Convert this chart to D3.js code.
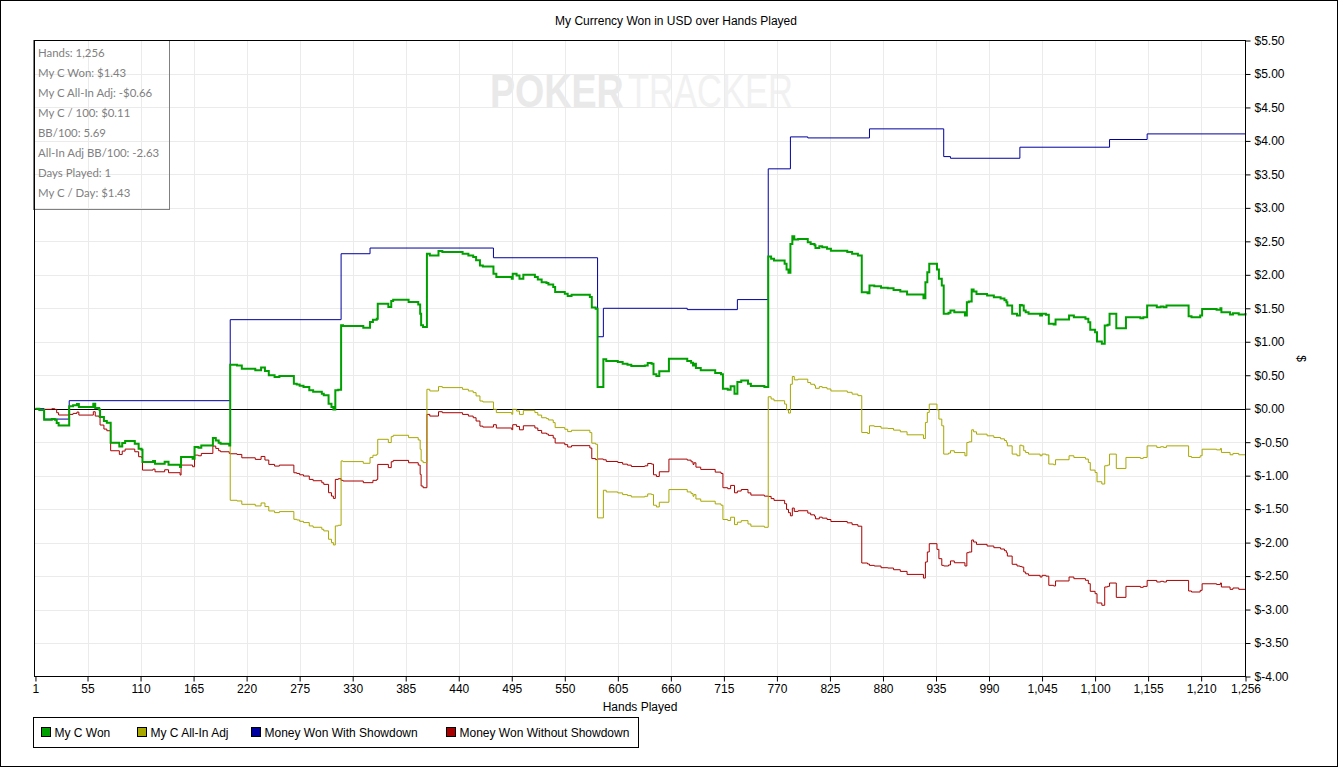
<!DOCTYPE html>
<html>
<head>
<meta charset="utf-8">
<script src="https://cdn.jsdelivr.net/npm/d3@7"></script>
<style>
  html, body { margin: 0; padding: 0; background: #fff; }
  svg { display: block; font-family: "Liberation Sans", Arial, sans-serif; }
</style>
</head>
<body>
<svg id="chart" width="1338" height="767"></svg>
<script>
// ---- data ----
const hands = [1, 5, 10, 18, 21, 23, 25, 36, 40, 44, 46, 61, 63, 67, 68, 72, 75, 79, 88, 91,
  94, 104, 108, 111, 112, 123, 125, 135, 139, 151, 152, 164, 166, 170, 173, 185, 188, 191, 193, 202,
  203, 210, 215, 229, 235, 239, 243, 249, 254, 269, 272, 275, 279, 285, 289, 298, 300, 305, 308, 310,
  312, 315, 318, 320, 341, 348, 351, 355, 356, 367, 370, 372, 388, 398, 400, 401, 403, 407, 410, 419,
  423, 444, 450, 455, 458, 462, 465, 476, 479, 495, 496, 500, 503, 507, 519, 522, 526, 531, 533, 538,
  540, 550, 553, 557, 576, 578, 582, 584, 590, 593, 605, 610, 615, 619, 633, 636, 640, 642, 645, 648,
  658, 677, 681, 683, 684, 686, 691, 706, 712, 714, 719, 722, 726, 729, 733, 740, 743, 757, 761, 764,
  767, 778, 780, 782, 784, 786, 788, 792, 802, 805, 809, 810, 814, 817, 822, 826, 843, 848, 854, 858,
  864, 866, 871, 878, 885, 891, 898, 905, 922, 924, 926, 928, 936, 938, 941, 943, 948, 950, 954, 965,
  967, 969, 972, 974, 977, 988, 995, 1002, 1006, 1008, 1009, 1014, 1019, 1022, 1024, 1026, 1028, 1031, 1043, 1045,
  1049, 1052, 1057, 1059, 1073, 1078, 1090, 1093, 1095, 1100, 1102, 1107, 1110, 1113, 1115, 1122, 1132, 1147, 1150, 1154,
  1164, 1168, 1171, 1174, 1197, 1200, 1209, 1211, 1226, 1230, 1231, 1240, 1243, 1249, 1256];

const wonValues = [0, -0.02, -0.164, -0.154, -0.165, -0.214, -0.249, 0.035, 0.05, 0.07, 0.025, 0.075, 0.01, -0.01, -0.124, -0.184, -0.209, -0.508, -0.563, -0.513,
  -0.483, -0.523, -0.597, -0.612, -0.797, -0.782, -0.822, -0.792, -0.836, -0.871, -0.722, -0.747, -0.573, -0.583, -0.548, -0.438, -0.473, -0.508, -0.523, -0.548,
  0.657, 0.647, 0.597, 0.573, 0.617, 0.563, 0.498, 0.473, 0.488, 0.373, 0.363, 0.343, 0.324, 0.274, 0.254, 0.224, 0.2, 0.075, 0.025, -0.01,
  0.274, 0.284, 1.245, 1.235, 1.21, 1.295, 1.33, 1.344, 1.568, 1.52, 1.608, 1.628, 1.593, 1.558, 1.419, 1.245, 1.22, 2.315, 2.29, 2.355,
  2.34, 2.315, 2.29, 2.265, 2.216, 2.14, 2.126, 2.016, 1.967, 1.942, 2.016, 1.99, 1.94, 2.0, 1.967, 1.93, 1.89, 1.877, 1.857, 1.817,
  1.743, 1.718, 1.683, 1.703, 1.668, 1.51, 1.494, 0.324, 0.737, 0.712, 0.697, 0.672, 0.657, 0.637, 0.647, 0.682, 0.672, 0.513, 0.488, 0.558,
  0.747, 0.712, 0.687, 0.647, 0.672, 0.607, 0.573, 0.533, 0.513, 0.3, 0.285, 0.334, 0.224, 0.4, 0.423, 0.373, 0.34, 0.324, 2.273, 2.24,
  2.214, 2.164, 2.079, 2.03, 2.46, 2.576, 2.526, 2.536, 2.486, 2.46, 2.44, 2.4, 2.425, 2.41, 2.39, 2.36, 2.34, 2.313, 2.29, 1.74,
  1.725, 1.84, 1.83, 1.805, 1.8, 1.775, 1.75, 1.705, 1.65, 1.89, 2.04, 2.164, 2.079, 1.94, 1.84, 1.417, 1.432, 1.467, 1.44, 1.392,
  1.59, 1.6, 1.78, 1.75, 1.715, 1.69, 1.665, 1.645, 1.62, 1.59, 1.54, 1.417, 1.392, 1.55, 1.54, 1.467, 1.44, 1.417, 1.392, 1.417,
  1.405, 1.268, 1.258, 1.333, 1.392, 1.367, 1.343, 1.293, 1.178, 1.143, 1.004, 0.97, 1.243, 1.253, 1.417, 1.203, 1.367, 1.353, 1.367, 1.54,
  1.517, 1.527, 1.517, 1.54, 1.382, 1.367, 1.392, 1.49, 1.48, 1.502, 1.442, 1.407, 1.427, 1.407, 1.43];

const allInValues = [0, -0.02, -0.164, -0.154, -0.165, -0.214, -0.249, 0.035, 0.05, 0.07, 0.025, 0.075, 0.01, -0.01, -0.124, -0.184, -0.209, -0.508, -0.563, -0.513,
  -0.483, -0.523, -0.597, -0.612, -0.797, -0.782, -0.822, -0.792, -0.836, -0.871, -0.722, -0.747, -0.573, -0.583, -0.548, -0.438, -0.473, -0.508, -0.523, -0.548,
  -1.368, -1.378, -1.428, -1.452, -1.408, -1.462, -1.527, -1.552, -1.537, -1.652, -1.662, -1.682, -1.701, -1.751, -1.771, -1.801, -1.825, -1.95, -2.0, -2.035,
  -1.751, -1.741, -0.78, -0.79, -0.815, -0.73, -0.695, -0.681, -0.457, -0.505, -0.417, -0.397, -0.432, -0.467, -0.606, -0.78, -0.805, 0.29, 0.265, 0.33,
  0.315, 0.29, 0.265, 0.24, 0.191, 0.115, 0.101, -0.009, -0.058, -0.083, -0.009, -0.035, -0.085, -0.025, -0.058, -0.095, -0.135, -0.148, -0.168, -0.208,
  -0.282, -0.307, -0.342, -0.322, -0.357, -0.515, -0.531, -1.631, -1.218, -1.243, -1.258, -1.283, -1.298, -1.318, -1.308, -1.273, -1.283, -1.442, -1.467, -1.397,
  -1.208, -1.243, -1.268, -1.308, -1.283, -1.348, -1.382, -1.422, -1.442, -1.655, -1.67, -1.621, -1.731, -1.695, -1.672, -1.722, -1.755, -1.771, 0.178, 0.145,
  0.119, 0.069, -0.016, -0.065, 0.365, 0.481, 0.431, 0.441, 0.391, 0.365, 0.345, 0.305, 0.33, 0.315, 0.295, 0.265, 0.245, 0.218, 0.195, -0.355,
  -0.37, -0.255, -0.265, -0.29, -0.295, -0.32, -0.345, -0.39, -0.445, -0.205, -0.055, 0.069, -0.016, -0.155, -0.255, -0.678, -0.663, -0.628, -0.655, -0.703,
  -0.505, -0.495, -0.315, -0.345, -0.38, -0.405, -0.43, -0.45, -0.475, -0.505, -0.555, -0.678, -0.703, -0.545, -0.555, -0.628, -0.655, -0.678, -0.703, -0.678,
  -0.69, -0.827, -0.837, -0.762, -0.703, -0.728, -0.752, -0.802, -0.917, -0.952, -1.091, -1.125, -0.852, -0.842, -0.678, -0.892, -0.728, -0.742, -0.728, -0.555,
  -0.578, -0.568, -0.578, -0.555, -0.713, -0.728, -0.703, -0.605, -0.615, -0.593, -0.653, -0.688, -0.668, -0.688, -0.66];

const nonShowdownValues = [0, -0.02, -0.009, 0.0, -0.01, -0.06, -0.094, -0.085, -0.07, -0.05, -0.095, -0.045, -0.11, -0.13, -0.244, -0.304, -0.329, -0.628, -0.683, -0.633,
  -0.603, -0.643, -0.717, -0.732, -0.917, -0.902, -0.942, -0.912, -0.956, -0.991, -0.842, -0.867, -0.693, -0.703, -0.668, -0.558, -0.593, -0.628, -0.643, -0.668,
  -0.673, -0.683, -0.733, -0.757, -0.713, -0.767, -0.832, -0.857, -0.842, -0.957, -0.967, -0.987, -1.006, -1.056, -1.076, -1.106, -1.13, -1.255, -1.305, -1.34,
  -1.056, -1.046, -1.07, -1.08, -1.105, -1.105, -1.07, -1.056, -0.832, -0.88, -0.792, -0.772, -0.807, -0.842, -0.981, -1.155, -1.18, -0.085, -0.11, -0.045,
  -0.06, -0.085, -0.11, -0.135, -0.184, -0.26, -0.274, -0.239, -0.288, -0.313, -0.239, -0.265, -0.315, -0.255, -0.288, -0.325, -0.365, -0.378, -0.398, -0.438,
  -0.512, -0.537, -0.572, -0.552, -0.587, -0.745, -0.761, -0.751, -0.763, -0.788, -0.803, -0.828, -0.843, -0.863, -0.853, -0.818, -0.828, -0.987, -1.012, -0.942,
  -0.753, -0.768, -0.793, -0.833, -0.808, -0.873, -0.907, -0.947, -0.967, -1.18, -1.195, -1.146, -1.256, -1.23, -1.207, -1.257, -1.29, -1.306, -1.31, -1.343,
  -1.369, -1.419, -1.504, -1.553, -1.6, -1.484, -1.534, -1.524, -1.559, -1.585, -1.605, -1.645, -1.62, -1.635, -1.655, -1.685, -1.705, -1.732, -1.755, -2.305,
  -2.32, -2.34, -2.35, -2.375, -2.38, -2.405, -2.43, -2.475, -2.53, -2.29, -2.14, -2.016, -2.101, -2.24, -2.34, -2.349, -2.334, -2.274, -2.301, -2.349,
  -2.151, -2.141, -1.961, -1.991, -2.026, -2.051, -2.076, -2.096, -2.121, -2.151, -2.201, -2.324, -2.349, -2.356, -2.366, -2.439, -2.466, -2.489, -2.514, -2.489,
  -2.501, -2.638, -2.648, -2.573, -2.514, -2.539, -2.563, -2.613, -2.728, -2.763, -2.902, -2.936, -2.663, -2.653, -2.604, -2.818, -2.654, -2.668, -2.654, -2.565,
  -2.588, -2.578, -2.588, -2.565, -2.723, -2.738, -2.713, -2.615, -2.625, -2.603, -2.663, -2.698, -2.678, -2.698, -2.675];

const showdownHands = [1, 10, 36, 203, 318, 348, 476, 584, 590, 677, 729, 761, 784, 802, 866, 943, 950, 1022, 1115, 1154, 1256];
const showdownValues = [0, -0.155, 0.12, 1.33, 2.315, 2.40, 2.255, 1.075, 1.50, 1.48, 1.63, 3.583, 4.06, 4.045, 4.18, 3.766, 3.741, 3.906, 4.021, 4.105, 4.105];

const xTicks = [1, 55, 110, 165, 220, 275, 330, 385, 440, 495, 550, 605, 660, 715, 770, 825, 880, 935, 990, 1045, 1100, 1155, 1210, 1256];
const yTicks = [-4, -3.5, -3, -2.5, -2, -1.5, -1, -0.5, 0, 0.5, 1, 1.5, 2, 2.5, 3, 3.5, 4, 4.5, 5, 5.5];

const seriesNames = ["My C Won", "My C All-In Adj", "Money Won With Showdown", "Money Won Without Showdown"];
const seriesColors = ["#00a000", "#a8a800", "#0000a0", "#a80000"];

const statLines = ["Hands: 1,256", "My C Won: $1.43", "My C All-In Adj: -$0.66", "My C / 100: $0.11",
  "BB/100: 5.69", "All-In Adj BB/100: -2.63", "Days Played: 1", "My C / Day: $1.43"];

// ---- layout ----
const W = 1338, H = 767;
const plot = { left: 34.5, right: 1245.5, top: 40.5, bottom: 676.5 };
const legendX = [41.5, 137.5, 251.5, 446.5];

const svg = d3.select("#chart");

const x = d3.scaleLinear().domain([0, 1256]).range([plot.left, plot.right]);
const y = d3.scaleLinear().domain([-4, 5.5]).range([plot.bottom, plot.top]);

svg.append("rect").attr("width", W).attr("height", H).attr("fill", "#fff");
svg.append("rect")
    .attr("x", 0.5).attr("y", 0.5)
    .attr("width", W - 1).attr("height", H - 1)
    .attr("fill", "none").attr("stroke", "#000");

// title
svg.append("text")
    .attr("x", 676).attr("y", 25)
    .attr("text-anchor", "middle")
    .style("font-size", "12px")
    .text("My Currency Won in USD over Hands Played");

// watermark (squeezed horizontally like the original logo)
svg.append("text")
    .attr("transform", "translate(490,107) scale(0.8,1)")
    .style("font-size", "47px").style("font-weight", "bold")
    .attr("fill", "#e9e9e9")
    .text("POKER");
svg.append("text")
    .attr("transform", "translate(628,107) scale(0.735,1)")
    .style("font-size", "47px")
    .attr("fill", "#f1f1f1")
    .text("TRACKER");

// gridlines
const grid = svg.append("g").attr("stroke", "#ebebeb").attr("stroke-width", 1);
grid.selectAll("line.v")
    .data(xTicks.slice(1, -1))
    .enter().append("line")
    .attr("class", "v")
    .attr("x1", d => Math.round(x(d)) + 0.5).attr("x2", d => Math.round(x(d)) + 0.5)
    .attr("y1", plot.top).attr("y2", plot.bottom);
grid.selectAll("line.h")
    .data(yTicks.slice(1, -1))
    .enter().append("line")
    .attr("class", "h")
    .attr("y1", d => Math.round(y(d)) + 0.5).attr("y2", d => Math.round(y(d)) + 0.5)
    .attr("x1", plot.left).attr("x2", plot.right);

// info box
svg.append("rect")
    .attr("x", 33.5).attr("y", 40.5)
    .attr("width", 136).attr("height", 169)
    .attr("fill", "none").attr("stroke", "#808080");
svg.append("g")
    .selectAll("text")
    .data(statLines)
    .enter().append("text")
    .attr("x", 38)
    .attr("y", (d, i) => 57 + i * 20)
    .attr("fill", "#808080")
    .style("font-family", "Lato, 'Open Sans', sans-serif")
    .style("font-size", "11.4px")
    .text(d => d);

// zero line
svg.append("line")
    .attr("x1", plot.left).attr("x2", plot.right)
    .attr("y1", Math.round(y(0)) + 0.5).attr("y2", Math.round(y(0)) + 0.5)
    .attr("stroke", "#000");

// series
function stepPath(xs, vs) {
  return d3.line()
      .x((d, i) => x(xs[i]))
      .y(d => y(d))
      .curve(d3.curveStepAfter)(vs);
}

const series = [
  { xs: hands, vs: nonShowdownValues, color: seriesColors[3], w: 1 },
  { xs: showdownHands, vs: showdownValues, color: seriesColors[2], w: 1 },
  { xs: hands, vs: allInValues, color: seriesColors[1], w: 1 },
  { xs: hands, vs: wonValues, color: seriesColors[0], w: 2 }
];

svg.append("g")
    .selectAll("path")
    .data(series)
    .enter().append("path")
    .attr("d", d => stepPath(d.xs, d.vs))
    .attr("fill", "none")
    .attr("stroke", d => d.color)
    .attr("stroke-width", d => d.w);

// plot frame
svg.append("rect")
    .attr("x", plot.left).attr("y", plot.top)
    .attr("width", plot.right - plot.left).attr("height", plot.bottom - plot.top)
    .attr("fill", "none").attr("stroke", "#000");

// axes
const xAxis = d3.axisBottom(x)
    .tickValues(xTicks)
    .tickSize(5).tickSizeOuter(0).tickPadding(3)
    .tickFormat(d3.format(","));
const xg = svg.append("g")
    .attr("transform", `translate(0,${plot.bottom})`)
    .call(xAxis);
xg.select(".domain").remove();
xg.selectAll("text").style("font-size", "12px").attr("fill", "#000")
    .style("font-family", "'Liberation Sans', Arial, sans-serif");
xg.selectAll("line").attr("stroke", "#000");

const yAxis = d3.axisRight(y)
    .tickValues(yTicks)
    .tickSize(5).tickSizeOuter(0).tickPadding(4)
    .tickFormat(d => "$" + d.toFixed(2));
const yg = svg.append("g")
    .attr("transform", `translate(${plot.right},0)`)
    .call(yAxis);
yg.select(".domain").remove();
yg.selectAll("text").style("font-size", "12px").attr("fill", "#000")
    .style("font-family", "'Liberation Sans', Arial, sans-serif");
yg.selectAll("line").attr("stroke", "#000");

// axis titles
svg.append("text")
    .attr("x", (plot.left + plot.right) / 2).attr("y", 711)
    .attr("text-anchor", "middle")
    .style("font-size", "12px")
    .text("Hands Played");
svg.append("text")
    .attr("transform", `translate(1297,${(plot.top + plot.bottom) / 2}) rotate(90)`)
    .attr("text-anchor", "middle")
    .style("font-size", "12px")
    .text("$");

// legend
const legend = svg.append("g");
legend.append("rect")
    .attr("x", 33.5).attr("y", 717.5)
    .attr("width", 605).attr("height", 30)
    .attr("fill", "#fff").attr("stroke", "#000");
const items = legend.selectAll("g.item")
    .data(seriesNames)
    .enter().append("g")
    .attr("class", "item")
    .attr("transform", (d, i) => `translate(${legendX[i]},727.5)`);
items.append("rect")
    .attr("width", 9).attr("height", 9)
    .attr("fill", (d, i) => seriesColors[i]).attr("stroke", "#000");
items.append("text")
    .attr("x", 13).attr("y", 9)
    .style("font-size", "12px")
    .text(d => d);
</script>
</body>
</html>
